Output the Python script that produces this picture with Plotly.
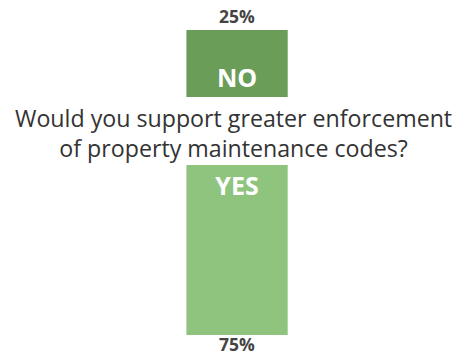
import plotly.graph_objects as go
from plotly.subplots import make_subplots

# Survey answers and their shares (percent)
answers = ["NO", "YES"]
shares = [25, 75]
bar_colors = ["#6a9d57", "#8fc47e"]
question = "Would you support greater enforcement<br>of property maintenance codes?"

W, H = 466, 357

fig = make_subplots(rows=2, cols=1)

# NO bar grows upward, YES bar grows downward from the question
for i, (ans, val, col) in enumerate(zip(answers, shares, bar_colors)):
    fig.add_trace(
        go.Bar(
            x=[0], y=[val], width=1,
            marker=dict(color=col, line=dict(width=0)),
            text=[ans], textposition="inside", insidetextanchor="start",
            textangle=0,
            textfont=dict(family="Open Sans", size=25, color="white", weight="bold"),
            showlegend=False, hoverinfo="skip",
        ),
        row=i + 1, col=1,
    )
    fig.add_annotation(
        x=0, y=val, xref=f"x{i + 1}" if i else "x", yref=f"y{i + 1}" if i else "y",
        text=f"{val}%", showarrow=False,
        yanchor="bottom" if i == 0 else "top",
        yshift=1 if i == 0 else 4,
        borderpad=0,
        font=dict(family="Open Sans", size=17.5, color="#444444", weight="bold"),
    )

fig.add_annotation(
    x=0.5, y=0.628, xref="paper", yref="paper", text=question, showarrow=False,
    xanchor="center", yanchor="middle", align="center",
    font=dict(family="Open Sans", size=23.2, color="#333333"),
)

axis_off = dict(visible=False, showgrid=False, zeroline=False, fixedrange=True)
fig.update_layout(
    width=W, height=H,
    margin=dict(l=0, r=0, t=0, b=0),
    paper_bgcolor="white", plot_bgcolor="white",
    xaxis=dict(axis_off, range=[-2.34, 2.26], domain=[0, 1]),
    xaxis2=dict(axis_off, range=[-2.34, 2.26], domain=[0, 1]),
    yaxis=dict(axis_off, range=[0, 25], domain=[(H - 97) / H, (H - 30) / H]),
    yaxis2=dict(axis_off, range=[75, 0], domain=[(H - 335) / H, (H - 165) / H]),
    uniformtext=dict(mode=False),
)

fig.write_html("out.html")
